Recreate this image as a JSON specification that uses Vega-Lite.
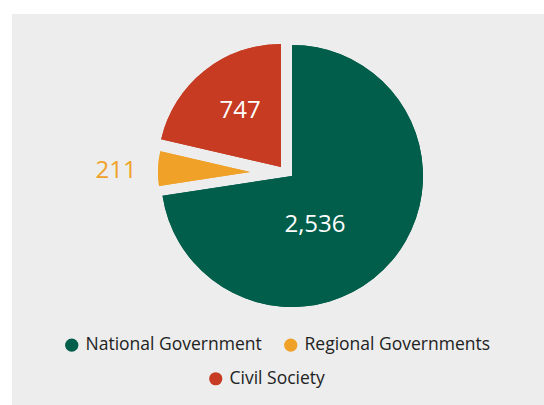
{
  "$schema": "https://vega.github.io/schema/vega-lite/v6.json",
  "width": 545,
  "height": 400,
  "autosize": "none",
  "padding": {"left": 12, "top": 14, "right": 0, "bottom": 0},
  "background": "white",
  "view": {"fill": "#ecedec", "stroke": null},
  "config": {
    "view": {"fill": "#ecedec", "stroke": null},
    "style": {"cell": {"fill": "#ecedec", "stroke": null}},
    "font": "Open Sans",
    "legend": {
      "orient": "none",
      "direction": "horizontal",
      "title": null,
      "symbolType": "circle",
      "symbolSize": 175,
      "symbolStrokeWidth": 0,
      "labelFont": "Open Sans",
      "labelFontSize": 17.5,
      "labelColor": "#222222",
      "labelOffset": 5,
      "labelLimit": 400,
      "columnPadding": 20,
      "padding": 0
    }
  },
  "data": {
    "values": [
      {"category": "National Government", "value": 2536},
      {"category": "Regional Governments", "value": 211},
      {"category": "Civil Society", "value": 747}
    ]
  },
  "transform": [{"window": [{"op": "row_number", "as": "rank"}]}],
  "layer": [
    {
      "mark": {
        "type": "arc",
        "x": 273,
        "y": 158,
        "radius": {"expr": "datum.category === 'National Government' ? 131 : datum.category === 'Regional Governments' ? 92 : 123"},
        "xOffset": {"expr": "datum.category === 'National Government' ? 7 : datum.category === 'Regional Governments' ? -35 : -4"},
        "yOffset": {"expr": "datum.category === 'National Government' ? 4 : datum.category === 'Regional Governments' ? 0 : -5"}
      },
      "encoding": {
        "theta": {"field": "value", "type": "quantitative", "stack": true},
        "order": {"field": "rank", "type": "quantitative"},
        "color": {
          "field": "category",
          "type": "nominal",
          "scale": {
            "domain": ["National Government", "Regional Governments", "Civil Society"],
            "range": ["#005e4b", "#f0a128", "#c63b22"]
          },
          "legend": {"values": ["National Government", "Regional Governments"], "legendX": 51, "legendY": 322}
        }
      }
    },
    {
      "mark": {
        "type": "arc",
        "x": 273,
        "y": 158,
        "radius": {"expr": "datum.category === 'National Government' ? 131 : datum.category === 'Regional Governments' ? 92 : 123"},
        "xOffset": {"expr": "datum.category === 'National Government' ? 7 : datum.category === 'Regional Governments' ? -35 : -4"},
        "yOffset": {"expr": "datum.category === 'National Government' ? 4 : datum.category === 'Regional Governments' ? 0 : -5"}
      },
      "encoding": {
        "theta": {"field": "value", "type": "quantitative", "stack": true},
        "order": {"field": "rank", "type": "quantitative"},
        "color": {
          "field": "category",
          "type": "nominal",
          "scale": {
            "domain": ["National Government", "Regional Governments", "Civil Society"],
            "range": ["#005e4b", "#f0a128", "#c63b22"]
          },
          "legend": {"values": ["Civil Society"], "legendX": 195, "legendY": 356}
        }
      }
    },
    {
      "mark": {
        "type": "text",
        "x": 273,
        "y": 158,
        "font": "Open Sans",
        "fontSize": 24,
        "align": "center",
        "baseline": "middle",
        "radius": {"expr": "datum.category === 'National Government' ? 54 : datum.category === 'Regional Governments' ? 134 : 72"},
        "xOffset": {"expr": "datum.category === 'National Government' ? -11 : datum.category === 'Regional Governments' ? -35 : 0"},
        "yOffset": {"expr": "datum.category === 'National Government' ? 18 : datum.category === 'Regional Governments' ? 4 : -5"},
        "color": {"expr": "datum.category === 'Regional Governments' ? '#f0a128' : '#ffffff'"}
      },
      "encoding": {
        "theta": {"field": "value", "type": "quantitative", "stack": true},
        "order": {"field": "rank", "type": "quantitative"},
        "text": {"field": "value", "type": "quantitative", "format": ","}
      }
    }
  ],
  "resolve": {"scale": {"color": "independent"}}
}
